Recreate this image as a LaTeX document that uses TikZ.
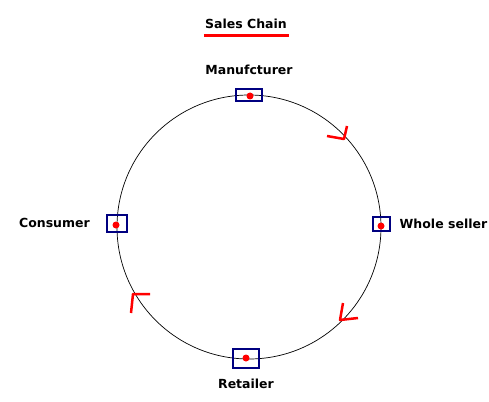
\documentclass[tikz,border=0pt]{standalone}
\usepackage{fontspec}
\setmainfont{DejaVu Sans}
\usetikzlibrary{positioning}
\definecolor{navy}{RGB}{0,0,128}

\begin{document}
\begin{tikzpicture}[
  x=1pt,y=-1pt,
  station/.style={draw=navy,line width=2pt,inner sep=0pt,minimum width=#1},
  spot/.style={circle,fill=red,inner sep=0pt,minimum size=7pt},
  tag/.style={inner sep=0pt,font=\bfseries\fontsize{12.5}{14}\selectfont},
  flow/.style={red,line width=2.5pt,line join=round}
]
  \useasboundingbox (0,0) rectangle (489,401);
  \fill[white] (0,0) rectangle (489,401);
  % the chain itself
  \coordinate (hub) at (249,227);
  \draw[line width=0.7pt] (hub) circle[radius=132];
  % title
  \node[tag] (title) at (246,24) {Sales Chain};
  \draw[red,line width=3pt] ([xshift=-1pt,yshift=-6pt]title.south west) -- ([xshift=2pt,yshift=-6pt]title.south east);
  % stations
  \node[station=26pt,minimum height=12pt] (manuf) at (249,95) {};
  \node[station=17pt,minimum height=14pt] (whole) at (381,224) {};
  \node[station=26pt,minimum height=19pt] (retail) at (246,358) {};
  \node[station=20pt,minimum height=17pt] (consum) at (117,223) {};
  \node[spot] at (250,96) {};
  \node[spot] at (381,226) {};
  \node[spot] at (246,358) {};
  \node[spot] at (116,225) {};
  % labels
  \node[tag,above=13pt of manuf] (manuftag) {Manufcturer};
  \node[tag,right=9pt of whole] (wholetag) {Whole seller};
  \node[tag,below=10pt of retail] (retailtag) {Retailer};
  \node[tag,left=16pt of consum] (consumtag) {Consumer};
  % direction marks
  \draw[flow] (327,136) -- (344,139) -- (347,126);
  \draw[flow] (343,303) -- (340,320) -- (358,318);
  \draw[flow] (150,294) -- (133,294) -- (131,313);
\end{tikzpicture}
\end{document}
